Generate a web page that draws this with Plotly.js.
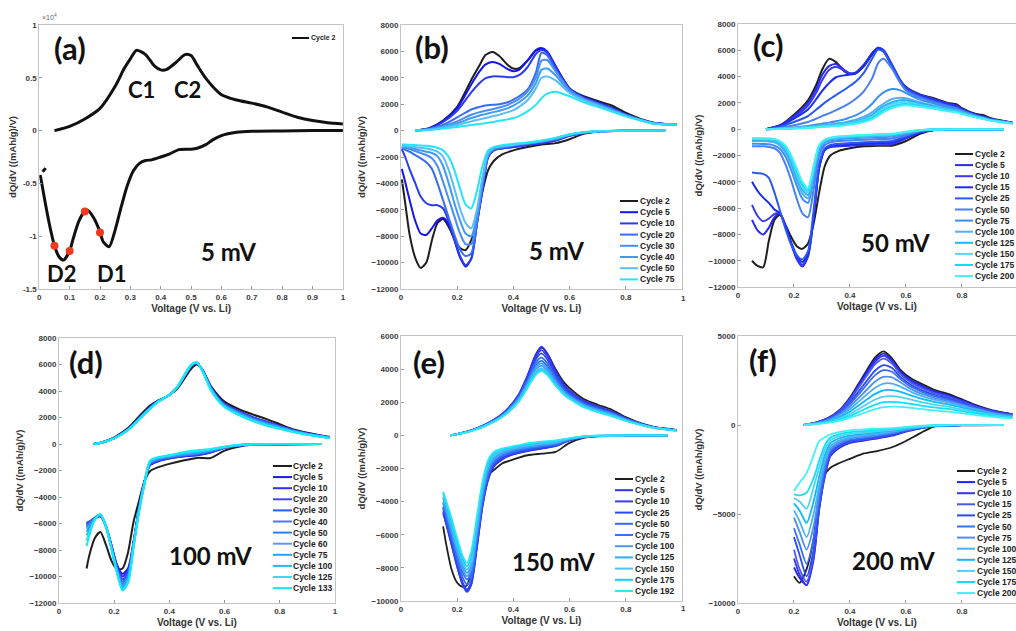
<!DOCTYPE html>
<html><head><meta charset="utf-8">
<script src="https://cdn.plot.ly/plotly-3.0.1.min.js"></script>
<style>html,body{margin:0;padding:0;background:#fff}#chart{width:1016px;height:631px}</style>
</head><body><div id="chart"></div>
<script>
// ===== Panel (a) 5 mV, cycle 2 =====
const aChgV = [0.05,0.1,0.15,0.2,0.25,0.28,0.3,0.32,0.35,0.38,0.4,0.42,0.45,0.48,0.5,0.52,0.55,0.6,0.65,0.7,0.75,0.8,0.85,0.9,0.95,1.0];
const aChg  = [0,400,1100,2100,4200,5900,6800,7600,7200,6100,5750,5800,6450,7200,7100,6200,4900,3400,2900,2600,2250,1750,1270,950,750,630];
const aDisV = [1.0,0.9,0.8,0.7,0.65,0.6,0.57,0.55,0.52,0.5,0.46,0.43,0.4,0.37,0.35,0.33,0.31,0.29,0.27,0.25,0.23,0.21,0.2,0.18,0.16,0.15,0.13,0.11,0.1,0.08,0.065,0.05,0.035,0.02,0.01,0.003];
const aDis  = [0,0,-30,-60,-160,-470,-900,-1300,-1670,-1760,-1800,-2200,-2500,-2770,-2830,-3100,-3800,-5200,-7200,-9400,-11000,-10500,-9600,-8300,-7550,-7640,-8600,-10400,-11400,-12260,-11950,-10900,-9100,-6900,-5300,-4200];
const aStubV = [0.011,0.021];
const aStub  = [-3900,-3550];
const aDotV = [0.05,0.1,0.15,0.2];
const aDot  = [-10900,-11400,-7650,-9650];
const aCycles = ['Cycle 2'];

// ===== Panel (b) 5 mV =====
const bCycles = ['Cycle 2','Cycle 5','Cycle 10','Cycle 20','Cycle 30','Cycle 40','Cycle 50','Cycle 75'];
const bColors = ['#1e1e1e','#1515f0','#2a3cf2','#3a6cf2','#4a8ef5','#3c9cf5','#5cbcf7','#22e6f6'];
const bChgV = [0.05,0.1,0.15,0.2,0.25,0.28,0.3,0.325,0.35,0.38,0.4,0.42,0.45,0.48,0.5,0.52,0.55,0.6,0.65,0.7,0.75,0.8,0.85,0.9,0.98];
const bChg = [
 [0,180,760,1800,3840,4970,5700,5950,5650,4970,4700,4720,5300,6050,6200,5950,4850,3200,2600,2250,1900,1350,900,600,450],
 [0,170,720,1700,3500,4500,5000,5200,5050,4650,4500,4600,5300,6100,6250,6000,4900,3200,2550,2150,1750,1250,850,580,450],
 [0,150,650,1500,2900,3600,3950,4100,4100,4050,4050,4200,4800,5800,6100,5900,4800,3150,2500,2100,1700,1200,850,570,450],
 [0,120,450,1000,1600,1800,1900,1950,2000,2150,2350,2600,3100,4400,5900,5700,4600,3100,2450,2050,1650,1200,850,560,450],
 [0,100,350,700,1200,1400,1500,1620,1750,1950,2150,2400,2950,4000,5300,5350,4500,3050,2400,2000,1600,1150,820,540,450],
 [0,80,280,560,950,1150,1250,1380,1500,1700,1900,2150,2650,3600,4600,4700,4200,2950,2350,1950,1550,1150,820,540,450],
 [0,60,220,420,700,850,950,1080,1200,1400,1550,1800,2300,3200,4000,4100,3800,2850,2300,1900,1500,1100,800,530,450],
 [0,50,150,280,420,500,560,650,750,850,950,1100,1450,1950,2450,2800,2950,2600,2150,1800,1450,1080,780,520,450]
];
const bDisV = [0.94,0.8,0.7,0.65,0.6,0.55,0.5,0.45,0.4,0.36,0.33,0.31,0.29,0.27,0.25,0.23,0.21,0.19,0.17,0.15,0.13,0.11,0.09,0.07,0.05,0.03,0.015,0.003];
const bDis = [
 [0,-10,-60,-250,-650,-950,-1050,-1250,-1500,-1800,-2300,-3000,-4600,-6800,-8300,-9050,-8900,-8200,-7300,-6700,-7000,-8300,-10000,-10400,-9600,-7800,-5500,-3700],
 [0,-10,-60,-180,-400,-750,-950,-1100,-1250,-1350,-1500,-2000,-4450,-7100,-9700,-10300,-9600,-8300,-7100,-6600,-6800,-7400,-7900,-7800,-6800,-5200,-3900,-2900],
 [0,-10,-60,-180,-400,-750,-950,-1100,-1250,-1350,-1500,-2000,-4450,-7100,-9700,-10200,-9500,-8200,-6900,-5900,-5650,-5650,-5500,-5000,-3950,-2900,-2000,-1400],
 [0,-10,-60,-160,-350,-650,-850,-1000,-1150,-1300,-1450,-1900,-4200,-7000,-9300,-9500,-9000,-7900,-6600,-5300,-4000,-2900,-2400,-2100,-1850,-1600,-1450,-1300],
 [0,-10,-50,-150,-330,-620,-820,-970,-1120,-1250,-1400,-1850,-4000,-6700,-8600,-8600,-7800,-6500,-5200,-3900,-2700,-2100,-1850,-1700,-1550,-1400,-1320,-1250],
 [0,-10,-50,-140,-310,-600,-800,-950,-1100,-1200,-1350,-1800,-3800,-6400,-8000,-7800,-6800,-5500,-4000,-2700,-1950,-1700,-1600,-1500,-1400,-1300,-1250,-1200],
 [0,-10,-40,-130,-300,-580,-780,-920,-1070,-1170,-1300,-1700,-3500,-6000,-7400,-7000,-5900,-4400,-3000,-2000,-1600,-1450,-1350,-1300,-1250,-1200,-1170,-1150],
 [0,-10,-40,-120,-280,-550,-750,-900,-1000,-1100,-1250,-1500,-2700,-4600,-5900,-5600,-4400,-3000,-2000,-1500,-1300,-1200,-1150,-1120,-1100,-1080,-1060,-1050]
];

// ===== Panel (c) 50 mV =====
const cCycles = ['Cycle 2','Cycle 5','Cycle 10','Cycle 15','Cycle 25','Cycle 50','Cycle 75','Cycle 100','Cycle 125','Cycle 150','Cycle 175','Cycle 200'];
const cColors = ['#1e1e1e','#2a2ae8','#3a3af0','#1a2cf0','#2a58f2','#4a80f2','#3a90f2','#58acf2','#22b4f5','#5cd4f7','#10dcf2','#44f0f5'];
const cChgV = [0.1,0.15,0.2,0.25,0.28,0.3,0.325,0.35,0.38,0.4,0.42,0.45,0.48,0.5,0.52,0.55,0.58,0.6,0.65,0.7,0.75,0.78,0.8,0.85,0.88,0.9,0.98];
const cChg = [
 [0,300,1100,2200,3400,4500,5350,5100,4400,4200,4250,4800,5700,6100,5900,4800,3700,3200,2650,2350,2000,1900,1600,1150,1050,850,500],
 [0,280,1000,2000,3100,4100,4800,4950,4500,4250,4300,4900,5800,6200,6000,4900,3700,3200,2600,2300,1950,1800,1550,1100,950,800,500],
 [0,260,900,1800,2800,3700,4500,4750,4450,4250,4300,4900,5800,6200,6000,4900,3700,3150,2600,2250,1900,1750,1500,1080,920,780,500],
 [0,230,800,1500,2300,2900,3500,3950,4100,4150,4250,4850,5750,6150,5950,4850,3650,3100,2550,2200,1850,1700,1480,1060,900,760,480],
 [0,170,550,1000,1500,1850,2250,2600,3000,3300,3600,4300,5400,6050,5900,4800,3600,3050,2500,2150,1800,1650,1450,1050,880,750,480],
 [0,100,300,550,800,1000,1200,1450,1750,2000,2300,2900,3900,5000,5350,4600,3500,2950,2400,2050,1750,1600,1400,1020,860,730,470],
 [0,50,130,250,350,420,500,600,750,900,1050,1400,1950,2450,2800,3050,2950,2750,2250,1950,1650,1520,1350,1000,840,710,460],
 [0,40,100,180,250,300,360,430,520,620,730,950,1300,1650,1950,2300,2400,2350,2050,1800,1550,1450,1300,970,820,700,450],
 [0,35,85,150,210,250,300,360,440,520,610,800,1100,1450,1750,2050,2200,2200,1950,1720,1500,1400,1250,950,800,690,450],
 [0,30,75,130,180,220,260,310,380,450,530,700,960,1280,1580,1880,2050,2050,1850,1650,1450,1350,1220,930,790,680,440],
 [0,25,65,115,160,190,230,280,340,400,470,620,860,1150,1430,1720,1900,1920,1780,1600,1400,1310,1190,910,780,670,440],
 [0,20,55,100,140,170,200,240,290,350,410,540,760,1020,1300,1600,1780,1820,1700,1550,1370,1280,1160,900,770,660,430]
];
const cDisV = [0.95,0.8,0.7,0.65,0.6,0.55,0.5,0.45,0.4,0.36,0.33,0.31,0.29,0.27,0.25,0.23,0.21,0.19,0.17,0.15,0.13,0.11,0.09,0.07,0.05];
const cDis = [
 [0,-10,-60,-350,-900,-1250,-1250,-1300,-1450,-1650,-2000,-2800,-4800,-7200,-8700,-9100,-8900,-8200,-7300,-6500,-6900,-8500,-10500,-10400,-10000],
 [0,-10,-60,-250,-700,-1150,-1200,-1200,-1250,-1300,-1350,-1600,-2900,-6800,-9700,-10450,-9900,-8700,-7400,-6400,-6700,-7500,-8000,-7700,-6900],
 [0,-10,-60,-240,-650,-1100,-1150,-1150,-1200,-1250,-1300,-1550,-2950,-6700,-9600,-10300,-9800,-8700,-7400,-6400,-6450,-6800,-7000,-6600,-5750],
 [0,-10,-55,-220,-600,-1000,-1050,-1100,-1150,-1200,-1270,-1500,-2900,-6600,-9500,-10100,-9600,-8600,-7400,-6400,-6100,-5600,-5200,-4700,-4000],
 [0,-10,-50,-200,-550,-900,-950,-1000,-1050,-1100,-1200,-1450,-2600,-6200,-9300,-9900,-9600,-8800,-7600,-6200,-4800,-3700,-3400,-3350,-3300],
 [0,-10,-40,-150,-450,-700,-750,-800,-850,-900,-1000,-1200,-2000,-4600,-6700,-6400,-5300,-3900,-2700,-1800,-1450,-1350,-1300,-1300,-1300],
 [0,-5,-30,-120,-350,-550,-600,-650,-700,-750,-850,-1000,-1700,-3800,-5600,-5300,-4300,-3100,-2100,-1500,-1250,-1150,-1120,-1100,-1100],
 [0,-5,-25,-100,-300,-480,-520,-570,-620,-680,-780,-950,-1500,-3500,-5250,-4900,-3900,-2700,-1800,-1250,-1000,-930,-910,-900,-900],
 [0,-5,-25,-90,-270,-430,-470,-520,-580,-640,-740,-900,-1400,-3300,-5000,-4600,-3600,-2500,-1600,-1100,-880,-820,-810,-800,-800],
 [0,-5,-20,-80,-240,-400,-440,-490,-550,-610,-700,-850,-1300,-3100,-4800,-4400,-3400,-2300,-1450,-1000,-820,-770,-760,-750,-750],
 [0,-5,-20,-70,-220,-370,-410,-460,-520,-580,-670,-820,-1250,-2950,-4650,-4200,-3200,-2150,-1350,-950,-780,-730,-710,-700,-700],
 [0,-5,-20,-60,-200,-350,-390,-440,-500,-560,-650,-800,-1200,-2800,-4500,-4000,-3000,-2000,-1250,-900,-750,-710,-700,-700,-700]
];

// ===== Panel (d) 100 mV =====
const dCycles = ['Cycle 2','Cycle 5','Cycle 10','Cycle 20','Cycle 30','Cycle 40','Cycle 50','Cycle 60','Cycle 75','Cycle 100','Cycle 125','Cycle 133'];
const dColors = ['#1e1e1e','#1818ee','#3030f0','#3a4af2','#2a5af2','#4a7af2','#2a80f5','#5a9af5','#2aa0f5','#10c0f5','#40d8f5','#10ecf5'];
const dChgV = [0.125,0.15,0.2,0.25,0.3,0.33,0.36,0.4,0.43,0.46,0.48,0.5,0.52,0.55,0.58,0.6,0.65,0.7,0.75,0.8,0.85,0.9,0.95,0.98];
const dChg = [
 [0,100,500,1200,2300,2900,3300,3700,4200,5100,5700,6000,5600,4400,3600,3200,2650,2250,1900,1500,1100,850,650,550],
 [0,80,450,1100,2150,2750,3250,3700,4300,5300,5900,6100,5600,4300,3450,3050,2500,2050,1700,1380,1050,800,620,500],
 [0,80,450,1100,2150,2750,3250,3700,4300,5300,5900,6100,5600,4300,3420,3020,2480,2030,1680,1360,1040,790,610,500],
 [0,80,445,1090,2130,2730,3240,3700,4310,5320,5920,6110,5580,4270,3390,2990,2450,2000,1650,1340,1020,780,600,490],
 [0,80,445,1085,2120,2720,3230,3700,4310,5330,5930,6120,5570,4250,3370,2960,2420,1970,1620,1310,1000,770,600,490],
 [0,80,440,1080,2110,2710,3220,3700,4320,5340,5940,6120,5560,4230,3340,2940,2390,1940,1590,1290,990,760,590,480],
 [0,80,440,1075,2100,2700,3220,3700,4320,5350,5950,6130,5550,4210,3320,2910,2360,1910,1560,1270,970,750,590,480],
 [0,80,435,1070,2090,2690,3210,3700,4330,5360,5960,6130,5540,4190,3300,2890,2330,1880,1530,1250,960,740,580,470],
 [0,80,435,1065,2080,2680,3210,3700,4330,5370,5970,6140,5530,4170,3270,2860,2300,1850,1500,1230,940,730,570,470],
 [0,80,430,1060,2070,2670,3200,3700,4340,5380,5980,6140,5520,4140,3240,2830,2260,1810,1460,1200,920,720,560,460],
 [0,80,430,1055,2060,2660,3200,3700,4340,5390,5990,6150,5510,4120,3220,2810,2230,1780,1430,1170,910,710,555,455],
 [0,80,430,1050,2050,2650,3200,3700,4350,5400,6000,6150,5500,4100,3200,2800,2200,1750,1400,1150,900,700,550,450]
];
const dDisV = [0.95,0.8,0.7,0.65,0.6,0.55,0.5,0.45,0.4,0.36,0.33,0.31,0.29,0.27,0.25,0.23,0.21,0.19,0.17,0.15,0.13,0.11,0.1];
const dDis = [
 [0,-10,-60,-200,-500,-1050,-1050,-1250,-1500,-1750,-2050,-2800,-4300,-5900,-8200,-9400,-9450,-8800,-7600,-6650,-7100,-8400,-9400],
 [0,-10,-40,-120,-300,-650,-850,-950,-1100,-1300,-1600,-2800,-4800,-7400,-9400,-9800,-9100,-7600,-6200,-5450,-5600,-5850,-5950],
 [0,-10,-40,-115,-290,-620,-820,-930,-1080,-1270,-1570,-2800,-4850,-7450,-9550,-10000,-9200,-7650,-6200,-5400,-5600,-5900,-6000],
 [0,-10,-35,-110,-280,-590,-790,-900,-1050,-1230,-1530,-2850,-4900,-7500,-9700,-10200,-9300,-7700,-6200,-5400,-5600,-5950,-6100],
 [0,-10,-35,-105,-270,-560,-760,-870,-1020,-1190,-1490,-2850,-4900,-7550,-9850,-10400,-9400,-7750,-6200,-5350,-5550,-5900,-6000],
 [0,-8,-30,-100,-260,-530,-730,-840,-990,-1150,-1450,-2900,-4950,-7600,-9950,-10500,-9450,-7800,-6200,-5350,-5600,-6000,-6200],
 [0,-8,-30,-95,-250,-510,-700,-810,-960,-1120,-1420,-2900,-5000,-7650,-10050,-10600,-9500,-7800,-6200,-5350,-5650,-6100,-6300],
 [0,-8,-28,-92,-240,-490,-670,-780,-940,-1090,-1390,-2950,-5000,-7700,-10150,-10700,-9550,-7850,-6200,-5350,-5650,-6200,-6400],
 [0,-7,-26,-90,-230,-470,-640,-750,-920,-1060,-1360,-2950,-5050,-7700,-10250,-10800,-9600,-7850,-6200,-5300,-5650,-6300,-6600],
 [0,-6,-24,-86,-220,-440,-590,-710,-890,-1030,-1320,-3000,-5050,-7750,-10350,-10900,-9650,-7900,-6200,-5300,-5700,-6500,-6900],
 [0,-5,-22,-83,-210,-410,-530,-660,-870,-1010,-1280,-3000,-5100,-7800,-10450,-11000,-9700,-7900,-6200,-5300,-5700,-6700,-7300],
 [0,-5,-20,-80,-200,-380,-480,-620,-850,-1000,-1250,-3000,-5100,-7800,-10500,-11050,-9700,-7900,-6200,-5300,-5700,-6900,-7700]
];

// ===== Panel (e) 150 mV =====
const eCycles = ['Cycle 2','Cycle 5','Cycle 10','Cycle 25','Cycle 50','Cycle 75','Cycle 100','Cycle 125','Cycle 150','Cycle 175','Cycle 192'];
const eColors = ['#1e1e1e','#3030f2','#3c3cf0','#2848f0','#3a66f2','#2a78f5','#4a98f5','#30a8f5','#50c0f5','#10d0f5','#30e6f5'];
const eChgV = [0.175,0.2,0.25,0.3,0.35,0.38,0.42,0.45,0.48,0.5,0.52,0.55,0.58,0.6,0.65,0.7,0.75,0.8,0.85,0.9,0.95,0.98];
const eChg = [
 [0,80,300,650,1150,1600,2450,3550,4850,5300,4950,4000,3200,2850,2200,1850,1550,1100,750,520,400,330],
 [0,80,300,650,1150,1600,2500,3600,4900,5350,4950,3900,3050,2700,2100,1750,1450,1050,730,500,380,320],
 [0,80,300,650,1140,1580,2450,3500,4750,5150,4780,3780,2960,2630,2050,1710,1420,1030,720,490,375,315],
 [0,80,295,640,1130,1560,2400,3420,4600,4950,4600,3660,2880,2560,2000,1670,1390,1010,710,485,370,310],
 [0,78,290,630,1110,1530,2350,3320,4420,4700,4380,3500,2780,2480,1940,1620,1350,990,700,480,365,305],
 [0,76,285,620,1090,1500,2300,3230,4250,4500,4200,3380,2700,2410,1890,1580,1320,970,690,475,360,300],
 [0,75,280,610,1070,1470,2250,3150,4120,4350,4060,3280,2640,2360,1850,1550,1290,950,680,470,360,300],
 [0,74,275,600,1050,1440,2200,3070,4000,4200,3930,3190,2580,2310,1810,1510,1260,930,670,465,355,295],
 [0,72,270,585,1030,1410,2150,2990,3870,4050,3800,3110,2520,2260,1770,1470,1220,910,660,460,350,290],
 [0,71,265,570,1010,1380,2100,2920,3750,3950,3720,3050,2480,2220,1730,1430,1180,890,655,455,350,285],
 [0,70,260,560,1000,1350,2050,2850,3650,3900,3650,3000,2450,2200,1700,1400,1150,880,650,450,350,280]
];
const eDisV = [0.95,0.8,0.7,0.65,0.6,0.55,0.5,0.45,0.4,0.36,0.33,0.31,0.29,0.27,0.25,0.235,0.22,0.2,0.18,0.16,0.15];
const eDis = [
 [0,-10,-60,-150,-450,-1000,-1100,-1200,-1450,-1700,-2100,-2400,-3400,-5600,-8100,-9050,-9150,-8900,-8100,-6500,-5500],
 [0,-10,-40,-120,-300,-650,-800,-950,-1150,-1450,-1900,-2700,-4300,-6800,-9000,-9400,-9000,-7900,-6600,-5300,-4700],
 [0,-10,-40,-115,-290,-630,-780,-930,-1120,-1400,-1850,-2650,-4250,-6750,-9000,-9450,-9050,-7950,-6600,-5250,-4600],
 [0,-10,-35,-110,-280,-600,-740,-890,-1080,-1340,-1780,-2550,-4150,-6600,-8850,-9300,-8900,-7800,-6450,-5100,-4400],
 [0,-8,-33,-100,-260,-560,-690,-830,-1010,-1260,-1680,-2400,-4000,-6400,-8600,-9000,-8600,-7500,-6200,-4900,-4300],
 [0,-8,-30,-95,-240,-520,-640,-770,-940,-1180,-1580,-2250,-3800,-6150,-8300,-8700,-8300,-7250,-6000,-4700,-4100],
 [0,-7,-28,-88,-225,-480,-590,-710,-870,-1100,-1470,-2100,-3600,-5900,-8100,-8500,-8100,-7050,-5800,-4550,-4000],
 [0,-6,-26,-80,-210,-440,-540,-650,-810,-1020,-1370,-1950,-3400,-5650,-7900,-8300,-7900,-6900,-5650,-4400,-3800],
 [0,-6,-24,-74,-195,-400,-490,-600,-750,-950,-1260,-1800,-3200,-5400,-7650,-8100,-7700,-6700,-5450,-4200,-3700],
 [0,-5,-22,-67,-180,-350,-440,-540,-700,-870,-1130,-1650,-3000,-5150,-7300,-7900,-7500,-6450,-5250,-4050,-3500],
 [0,-5,-20,-60,-160,-300,-380,-480,-650,-800,-1000,-1500,-2800,-4900,-7000,-7700,-7300,-6200,-5000,-3900,-3400]
];

// ===== Panel (f) 200 mV =====
const fCycles = ['Cycle 2','Cycle 5','Cycle 10','Cycle 15','Cycle 25','Cycle 50','Cycle 75','Cycle 100','Cycle 125','Cycle 150','Cycle 175','Cycle 200'];
const fColors = ['#1e1e1e','#2222ee','#3434f0','#4a58f2','#2a4af2','#3a6ef2','#4a90f5','#4ab0f5','#10b8f5','#50d0f5','#10e0f5','#40f0f5'];
const fChgV = [0.235,0.28,0.32,0.36,0.4,0.43,0.46,0.49,0.52,0.55,0.58,0.62,0.66,0.7,0.75,0.8,0.85,0.9,0.95,0.98];
const fChg = [
 [0,150,380,800,1550,2300,3080,3800,4140,3750,3100,2600,2280,1980,1750,1440,1120,870,700,620],
 [0,145,370,780,1500,2230,2980,3680,4010,3650,3000,2500,2180,1900,1680,1380,1080,840,680,600],
 [0,140,360,760,1460,2160,2880,3560,3880,3560,2930,2430,2110,1840,1630,1340,1050,820,660,590],
 [0,135,350,740,1410,2080,2770,3420,3730,3450,2860,2360,2050,1790,1580,1300,1020,800,640,580],
 [0,125,320,680,1280,1870,2480,3060,3360,3200,2700,2230,1930,1700,1500,1240,980,770,610,560],
 [0,115,300,630,1180,1710,2270,2800,3080,2990,2580,2130,1840,1620,1430,1190,950,740,590,540],
 [0,100,265,560,1040,1500,1980,2440,2700,2680,2400,2000,1730,1530,1350,1130,900,710,570,520],
 [0,90,235,490,900,1300,1710,2090,2320,2330,2160,1850,1610,1430,1270,1070,860,680,540,490],
 [0,80,205,420,760,1090,1430,1750,1950,1960,1860,1650,1450,1300,1160,980,800,630,510,460],
 [0,70,175,350,630,890,1170,1430,1600,1620,1560,1420,1270,1150,1030,880,720,580,480,430],
 [0,60,145,290,510,720,940,1140,1280,1300,1270,1180,1080,990,900,780,650,530,440,400],
 [0,50,120,230,400,560,730,890,1000,1030,1020,960,890,820,750,660,560,470,400,370]
];
const fDisV = [0.95,0.8,0.7,0.65,0.6,0.55,0.5,0.45,0.4,0.36,0.33,0.31,0.29,0.27,0.245,0.22,0.2];
const fDis = [
 [0,-20,-90,-470,-900,-1250,-1450,-1600,-1900,-2150,-2400,-2800,-3900,-6400,-8100,-8870,-8500],
 [0,-10,-60,-200,-370,-600,-750,-870,-1000,-1300,-1750,-2900,-4760,-7560,-9000,-8600,-8000],
 [0,-10,-55,-190,-350,-570,-720,-840,-970,-1260,-1700,-2850,-4700,-7450,-9000,-8400,-7500],
 [0,-10,-50,-180,-330,-540,-690,-810,-940,-1220,-1650,-2800,-4600,-7300,-8800,-8100,-7000],
 [0,-10,-45,-165,-310,-510,-650,-770,-900,-1170,-1580,-2700,-4500,-7000,-8500,-7300,-6300],
 [0,-8,-40,-150,-290,-470,-610,-720,-840,-1090,-1480,-2500,-4200,-6400,-7800,-6700,-5800],
 [0,-8,-35,-135,-260,-420,-550,-650,-770,-990,-1350,-2250,-3800,-5700,-7000,-6000,-5200],
 [0,-7,-30,-120,-230,-370,-480,-580,-690,-880,-1200,-2000,-3400,-5000,-6300,-5400,-4800],
 [0,-6,-26,-100,-200,-320,-410,-500,-600,-760,-1030,-1700,-2900,-4300,-5500,-4800,-4400],
 [0,-5,-22,-85,-170,-270,-340,-420,-500,-640,-860,-1400,-2400,-3500,-4700,-4300,-4100],
 [0,-5,-18,-70,-140,-220,-270,-340,-400,-520,-700,-1150,-2000,-3000,-3800,-3950,-3900],
 [0,-5,-15,-55,-110,-170,-200,-250,-300,-400,-520,-700,-900,-1700,-2700,-3250,-3700]
];

// ================= drawing =================
const W = 1016, H = 631;
const FONT = 'Liberation Sans, Arial, sans-serif';
const BIG = 'Lato, "Open Sans", sans-serif';
const traces = [];
const shapes = [];
const annotations = [];

function loop(disV, dis, chgV, chg, color, width, xa, ya) {
  traces.push({
    x: disV.concat([null], chgV), y: dis.concat([null], chg),
    mode: 'lines', line: {color: color, width: width, shape: 'spline', smoothing: 0.7},
    xaxis: xa, yaxis: ya, connectgaps: false, hoverinfo: 'skip', showlegend: false
  });
}
function panel(k, cycles, colors, disV, dis, chgV, chg, width) {
  for (let i = 0; i < cycles.length; i++) loop(disV, dis[i], chgV, chg[i], colors[i], width, 'x' + k, 'y' + k);
}

// panel a
loop(aDisV, aDis, aChgV, aChg, '#111', 3, 'x', 'y');
traces.push({x: aStubV, y: aStub, mode: 'lines', line: {color: '#111', width: 3}, xaxis: 'x', yaxis: 'y', hoverinfo: 'skip', showlegend: false});
traces.push({x: aDotV, y: aDot, mode: 'markers', marker: {color: '#f03a1e', size: 8}, xaxis: 'x', yaxis: 'y', hoverinfo: 'skip', showlegend: false});

panel(2, bCycles, bColors, bDisV, bDis, bChgV, bChg, 2);
panel(3, cCycles, cColors, cDisV, cDis, cChgV, cChg, 2);
panel(4, dCycles, dColors, dDisV, dDis, dChgV, dChg, 2);
panel(5, eCycles, eColors, eDisV, eDis, eChgV, eChg, 1.8);
panel(6, fCycles, fColors, fDisV, fDis, fChgV, fChg, 1.8);

// manual legends (compact rows like the original)
function legend(labels, colors, lx0, lx1, tx, y0, dy, fs) {
  labels.forEach(function (lab, i) {
    const y = 1 - (y0 + dy * i) / H;
    shapes.push({type: 'line', xref: 'paper', yref: 'paper', x0: lx0 / W, x1: lx1 / W, y0: y, y1: y,
      line: {color: colors[i], width: 2}});
    annotations.push({xref: 'paper', yref: 'paper', x: tx / W, y: y, text: lab, showarrow: false,
      xanchor: 'left', yanchor: 'middle', borderpad: 0,
      font: {family: FONT, size: fs, color: '#222', weight: 'bold'}});
  });
}
legend(aCycles, ['#111'], 292, 309, 310, 38, 11, 7);
legend(bCycles, bColors, 620, 638, 639, 201, 11.2, 8.5);
legend(cCycles, cColors, 955, 973, 974, 154, 11.1, 8.5);
legend(dCycles, dColors, 273, 292, 292, 466, 11.1, 8.5);
legend(eCycles, eColors, 615, 633, 634, 479, 11.2, 8.5);
legend(fCycles, fColors, 957, 975, 976, 471, 11.1, 8.5);

function txt(t, x, y, size, font) {
  annotations.push({xref: 'paper', yref: 'paper', x: x / W, y: 1 - y / H, text: t, showarrow: false,
    xanchor: 'center', yanchor: 'middle', font: {family: font || BIG, size: size, color: '#111', weight: 'bold'}});
}
txt('(a)', 70, 48, 31); txt('(b)', 432, 47, 31); txt('(c)', 768, 45, 31);
txt('(d)', 86, 362, 31); txt('(e)', 429, 362, 31); txt('(f)', 763, 360, 31);
txt('5 mV', 228, 252, 24); txt('5 mV', 556, 250, 24); txt('50 mV', 895, 242, 24);
txt('100 mV', 210, 555, 24); txt('150 mV', 553, 561, 24); txt('200 mV', 893, 560, 24);
txt('C1', 141, 90, 22); txt('C2', 187, 90, 22); txt('D2', 62, 273, 22); txt('D1', 112, 273, 22);
annotations.push({xref: 'paper', yref: 'paper', x: 40 / W, y: 1 - 17 / H, text: '×10<sup>4</sup>', showarrow: false,
  xanchor: 'left', yanchor: 'middle', font: {family: FONT, size: 7, color: '#666'}});
// end-of-range "1" tick labels of panels (b) and (e)
[[683, 298], [683, 608]].forEach(function (p) {
  annotations.push({xref: 'paper', yref: 'paper', x: p[0] / W, y: 1 - p[1] / H, text: '1', showarrow: false,
    xanchor: 'center', yanchor: 'middle', font: {family: FONT, size: 8, color: '#3a3a3a', weight: 'bold'}});
});

const base = {
  showline: true, mirror: true, linecolor: '#c4c4c4', linewidth: 1,
  ticks: 'inside', ticklen: 3, tickcolor: '#9a9a9a', showgrid: false, zeroline: false,
  exponentformat: 'none', separatethousands: false,
  tickfont: {family: FONT, size: 8, color: '#3a3a3a', weight: 'bold'}, automargin: false
};
const xt = {text: 'Voltage (V vs. Li)', font: {family: FONT, size: 10, color: '#333', weight: 'bold'}, standoff: 4};
const yt = {text: 'dQ/dV ((mAh/g)/V)', font: {family: FONT, size: 9.5, color: '#333', weight: 'bold'}, standoff: 4};
function xd(a, b) { return [a / W, Math.min(1, b / W)]; }
function yd(top, bot) { return [1 - bot / H, 1 - top / H]; }

const layout = {
  width: W, height: H, margin: {l: 0, r: 0, t: 0, b: 0}, paper_bgcolor: '#fff', plot_bgcolor: '#fff',
  showlegend: false, shapes: shapes, annotations: annotations,
  xaxis:  Object.assign({}, base, {domain: xd(39.3, 343), range: [0, 1.0005], dtick: 0.1, anchor: 'y', title: xt}),
  yaxis:  Object.assign({}, base, {domain: yd(25, 289), range: [-15000, 10000], anchor: 'x',
          tickvals: [-15000, -10000, -5000, 0, 5000, 10000], ticktext: ['-1.5', '-1', '-0.5', '0', '0.5', '1'], title: yt}),
  xaxis2: Object.assign({}, base, {domain: xd(401, 682), range: [0, 1], tickvals: [0, 0.2, 0.4, 0.6, 0.8], ticktext: ['0', '0.2', '0.4', '0.6', '0.8'], anchor: 'y2', title: xt}),
  yaxis2: Object.assign({}, base, {domain: yd(25, 289), range: [-12000, 8000], dtick: 2000, tickformat: 'd', anchor: 'x2', title: yt}),
  xaxis3: Object.assign({}, base, {domain: xd(738, 1016), range: [0, 0.993], dtick: 0.2, anchor: 'y3', title: xt}),
  yaxis3: Object.assign({}, base, {domain: yd(24, 287), range: [-12000, 8000], dtick: 2000, tickformat: 'd', anchor: 'x3', mirror: false, title: yt}),
  xaxis4: Object.assign({}, base, {domain: xd(59, 335), range: [0, 1.0005], dtick: 0.2, anchor: 'y4', title: xt}),
  yaxis4: Object.assign({}, base, {domain: yd(338, 603), range: [-12000, 8000], dtick: 2000, tickformat: 'd', anchor: 'x4', title: yt}),
  xaxis5: Object.assign({}, base, {domain: xd(401, 682), range: [0, 1], tickvals: [0, 0.2, 0.4, 0.6, 0.8], ticktext: ['0', '0.2', '0.4', '0.6', '0.8'], anchor: 'y5', title: xt}),
  yaxis5: Object.assign({}, base, {domain: yd(336, 601), range: [-10000, 6000], dtick: 2000, tickformat: 'd', anchor: 'x5', title: yt}),
  xaxis6: Object.assign({}, base, {domain: xd(738, 1016), range: [0, 0.993], dtick: 0.2, anchor: 'y6', title: xt}),
  yaxis6: Object.assign({}, base, {domain: yd(336, 603), range: [-10000, 5000], dtick: 5000, tickformat: 'd', anchor: 'x6', mirror: false, title: yt})
};

Plotly.newPlot('chart', traces, layout, {staticPlot: true, displayModeBar: false});
</script></body></html>
